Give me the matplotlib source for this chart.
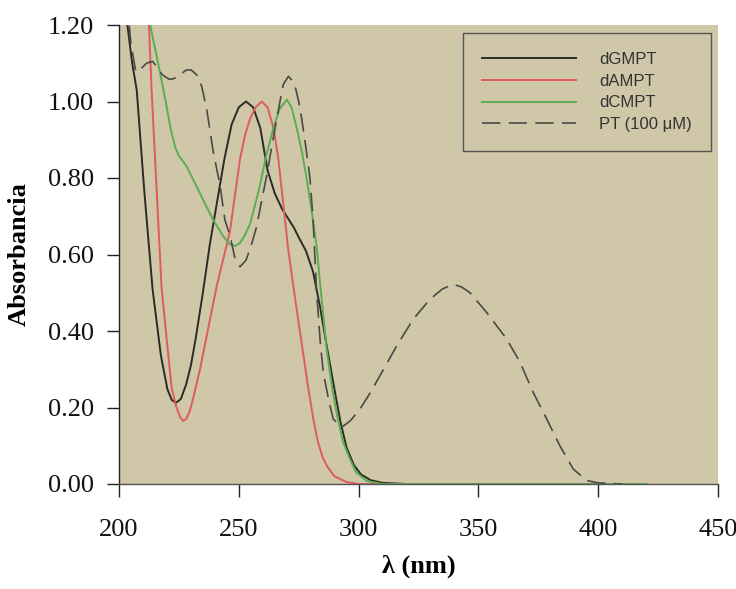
import matplotlib
matplotlib.use("Agg")
import matplotlib.pyplot as plt

dgmpt_x = [200, 203.5, 205.5, 207.4, 210.5, 214, 217.5, 220.2, 222, 223.7, 225.8, 228, 230, 232, 235, 238,
           241, 244, 247, 250, 253, 256, 259, 262, 265, 268, 270, 273, 275, 278, 281, 284, 287, 290,
           292.5, 295, 298, 301, 305, 310, 320, 420]
dgmpt_y = [1.50, 1.20, 1.10, 1.03, 0.77, 0.51, 0.335, 0.248, 0.22, 0.212, 0.222, 0.26, 0.31, 0.38, 0.50, 0.63,
           0.74, 0.85, 0.94, 0.985, 1.00, 0.985, 0.93, 0.82, 0.76, 0.72, 0.70, 0.67, 0.645, 0.61, 0.555, 0.46, 0.35, 0.245,
           0.16, 0.095, 0.05, 0.025, 0.01, 0.003, 0.0, 0.0]

dampt_x = [209, 212.5, 213.6, 215.7, 217.8, 220.6, 222, 224, 225.5, 226.8, 228, 229.5, 231, 233.8, 237, 240.8, 243, 246.3,
           248.5, 250.5, 252.5, 254.7, 257, 259.6, 262, 264.5, 266.5, 268.6, 270.5, 272.7, 275, 276.9,
           279, 281.1, 283, 285, 287, 290, 295, 300, 420]
dampt_y = [1.50, 1.20, 1.03, 0.77, 0.51, 0.335, 0.25, 0.20, 0.175, 0.165, 0.17, 0.19, 0.225, 0.30, 0.40, 0.518, 0.575, 0.66,
           0.76, 0.849, 0.91, 0.955, 0.985, 1.00, 0.985, 0.93, 0.85, 0.73, 0.62, 0.52, 0.42, 0.34,
           0.25, 0.17, 0.11, 0.07, 0.045, 0.02, 0.005, 0.0, 0.0]

dcmpt_x = [211, 213, 216, 219.5, 221.5, 223.5, 225, 228.3, 231, 233.8, 236.5, 239.4, 243.5, 246, 248.4, 250.5, 252.5,
           254.7, 256.8, 258.8, 261.5, 264.4, 267, 270, 272, 274.2, 276.3, 278.3, 280.5, 282.5, 284, 286.7,
           289, 291, 293.5, 296.4, 299, 303.4, 310, 420]
dcmpt_y = [1.26, 1.20, 1.11, 1.00, 0.93, 0.88, 0.858, 0.83, 0.795, 0.76, 0.725, 0.69, 0.648, 0.628, 0.622, 0.63, 0.65,
           0.68, 0.73, 0.78, 0.86, 0.93, 0.98, 1.005, 0.985, 0.93, 0.87, 0.80, 0.71, 0.62, 0.52, 0.35,
           0.25, 0.18, 0.11, 0.065, 0.03, 0.008, 0.0, 0.0]

pt_x = [200, 203.5, 205, 207, 209, 211.5, 214, 216, 218, 221, 223, 225.5, 228, 230, 232.4, 234.5, 236.6,
        239.4, 242.2, 244.2, 246.3, 248.4, 250.5, 253, 255, 257.5, 259.5, 261.6, 263.7, 265.8, 267.5,
        268.6, 270.7, 272.3, 273.5, 275, 276.3, 278, 279.7, 281, 282.5, 284, 285.3, 287.5, 289.4, 292.9,
        296.5, 300.6, 305, 308.9, 315.9, 322.8, 329.8, 335, 339.5, 343, 346.5, 353.5, 361.8, 367.4, 372.9,
        378.5, 384, 389.6, 395.2, 400, 410]
pt_y = [1.45, 1.25, 1.15, 1.078, 1.085, 1.10, 1.105, 1.09, 1.07, 1.058, 1.06, 1.07, 1.082, 1.083, 1.07, 1.04, 0.98,
        0.866, 0.78, 0.69, 0.65, 0.59, 0.568, 0.585, 0.62, 0.674, 0.74, 0.805, 0.88, 0.953, 1.01,
        1.045, 1.066, 1.055, 1.04, 1.0, 0.953, 0.88, 0.80, 0.69, 0.50, 0.37, 0.29, 0.22, 0.17, 0.148,
        0.165, 0.196, 0.24, 0.283, 0.361, 0.431, 0.483, 0.51, 0.522, 0.515, 0.50, 0.448, 0.379, 0.318, 0.239,
        0.17, 0.10, 0.039, 0.009, 0.003, 0.0]

series_labels = ["dGMPT", "dAMPT", "dCMPT", "PT (100 \u03bcM)"]
x_ticks = [200, 250, 300, 350, 400, 450]
y_ticks = [0.0, 0.2, 0.4, 0.6, 0.8, 1.0, 1.2]

# ---- figure ----
fig = plt.figure(figsize=(7.36, 5.89), dpi=100)
ax = fig.add_axes([119 / 736, 1 - 484 / 589, (718 - 119) / 736, (484 - 25) / 589])
bg = "#cfc7a7"
ax.set_facecolor(bg)

lw = 1.4
ax.plot(dgmpt_x, dgmpt_y, color="#2b2b28", lw=lw, label=series_labels[0])
ax.plot(dampt_x, dampt_y, color="#e05a5f", lw=lw, label=series_labels[1])
ax.plot(dcmpt_x, dcmpt_y, color="#5aae52", lw=lw, label=series_labels[2])
ax.plot(pt_x, pt_y, color="#4a4a46", lw=1.2, dashes=(11, 5), label=series_labels[3])

ax.set_xlim(200, 450)
ax.set_ylim(0, 1.2)
ax.set_xticks(x_ticks)
ax.set_xticklabels([str(v) for v in x_ticks])
ax.set_yticks(y_ticks)
ax.set_yticklabels([f"{v:.2f}" for v in y_ticks])

serif = ["Liberation Serif", "DejaVu Serif"]
for lab in ax.get_xticklabels() + ax.get_yticklabels():
    lab.set_fontfamily(serif)
    lab.set_fontsize(19)
    lab.set_color("#111111")

ax.tick_params(axis="x", direction="out", length=9, width=1.0, pad=16, color="#222222")
ax.tick_params(axis="y", direction="out", length=9, width=1.0, pad=9, color="#222222")

for s in ["top", "right"]:
    ax.spines[s].set_visible(False)
ax.spines["left"].set_color("#222222")
ax.spines["left"].set_linewidth(1.0)
ax.spines["bottom"].set_color("#555555")
ax.spines["bottom"].set_linewidth(1.0)

ax.set_xlabel("\u03bb (nm)", fontfamily=serif, fontsize=19, fontweight="bold", labelpad=10)
ax.set_ylabel("Absorbancia", fontfamily=serif, fontsize=19, fontweight="bold", labelpad=12)

leg = ax.legend(loc="upper right", bbox_to_anchor=(711 / 736, 1 - 33 / 589), bbox_transform=fig.transFigure,
                prop={"family": ["Liberation Sans", "DejaVu Sans"], "size": 12},
                frameon=True, fancybox=False, handlelength=5.6, handletextpad=1.4,
                labelspacing=0.4, borderpad=1.15, borderaxespad=0)
frame = leg.get_frame()
frame.set_facecolor(bg)
frame.set_edgecolor("#555555")
frame.set_linewidth(1.0)
frame.set_alpha(1)
for t in leg.get_texts():
    t.set_color("#333333")

fig.savefig("out.png", dpi=100)
